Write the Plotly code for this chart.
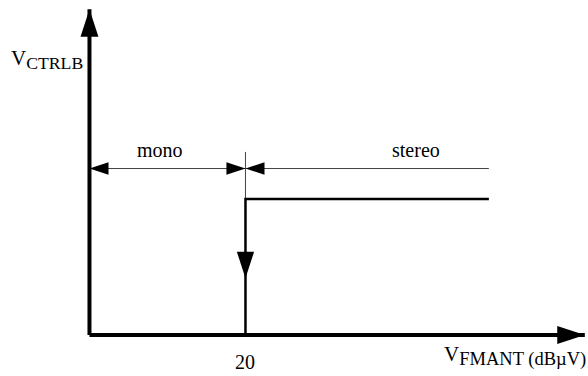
import plotly.graph_objects as go

# diagram values: x in dBµV, y in units of the stereo control level
threshold = 20.0        # mono / stereo switch point
stereo_end = 51.2
x_axis_end = 63.5
y_axis_end = 2.395
level = 1.0
dim_y = 1.224           # height of the mono/stereo dimension line
tick_top = 1.346
down_arrow_y = 0.417

curve_x = [threshold, threshold, stereo_end]
curve_y = [0, level, level]

FONT = "Liberation Serif"

fig = go.Figure()

# thin marker line above the step and the dimension lines
fig.add_trace(go.Scatter(x=[threshold, threshold], y=[level, tick_top], mode="lines",
                         line=dict(color="#444", width=1)))
fig.add_trace(go.Scatter(x=[0, stereo_end], y=[dim_y, dim_y], mode="lines",
                         line=dict(color="#444", width=1)))
fig.add_trace(go.Scatter(x=[0, threshold, threshold], y=[dim_y] * 3, mode="markers",
                         marker=dict(symbol="arrow", size=20, angle=[270, 90, 270],
                                     color="black", opacity=1, line=dict(width=0))))

# the step itself
fig.add_trace(go.Scatter(x=curve_x, y=curve_y, mode="lines",
                         line=dict(color="black", width=2.5)))
fig.add_trace(go.Scatter(x=[threshold], y=[down_arrow_y], mode="markers",
                         marker=dict(symbol="arrow", size=28, angle=180,
                                     color="black", opacity=1, line=dict(width=0))))

# axes, the line stops inside the arrow head so the tip stays sharp
for ax_x, ax_y in (([0, 0], [0, y_axis_end]), ([0, x_axis_end], [0, 0])):
    fig.add_trace(go.Scatter(x=ax_x, y=ax_y, mode="lines",
                             line=dict(color="black", width=4, backoff=[0, 18])))
fig.add_trace(go.Scatter(x=[0, x_axis_end], y=[y_axis_end, 0], mode="markers",
                         marker=dict(symbol="arrow", size=29, angle=[0, 90],
                                     color="black", opacity=1, line=dict(width=0))))

txt = dict(family=FONT, size=20, color="black")
fig.add_annotation(x=threshold / 2 - 1, y=1.36, text="mono", showarrow=False, font=txt)
fig.add_annotation(x=41.9, y=1.36, text="stereo", showarrow=False, font=txt)
fig.add_annotation(x=threshold, y=-0.2, text="20", showarrow=False, font=txt)
fig.add_annotation(xref="paper", yref="paper", x=9 / 588, y=1 - 44 / 376,
                   xanchor="left", text="V<sub><span style='font-size:17.7px'>CTRLB</span></sub>",
                   showarrow=False, font=dict(family=FONT, size=21, color="black"))
fig.add_annotation(xref="paper", yref="paper", x=588 / 588, y=1 - 372 / 376,
                   xanchor="right",
                   text="V<sub><span style='font-size:18.5px'>FMANT (dBµV)</span></sub>",
                   showarrow=False, font=dict(family=FONT, size=21, color="black"))

fig.update_xaxes(range=[-11.47, 63.91], visible=False)
fig.update_yaxes(range=[-0.3015, 2.463], visible=False)
fig.update_layout(width=588, height=376, margin=dict(l=0, r=0, t=0, b=0),
                  showlegend=False, plot_bgcolor="white", paper_bgcolor="white")

# page has a default 8px body margin; drop it so the figure fills the window
fig.write_html("out.html", config={"displayModeBar": False},
               post_script="document.body.style.margin='0';document.body.style.overflow='hidden';")
